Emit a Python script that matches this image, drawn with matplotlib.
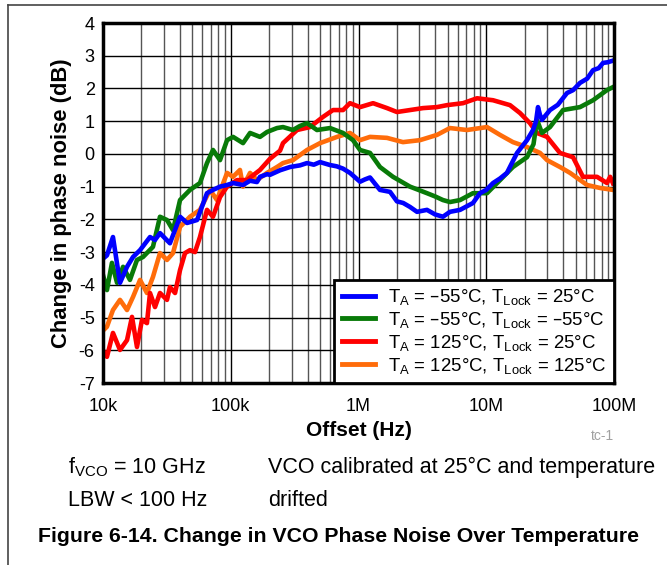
import numpy as np
import matplotlib
matplotlib.use("Agg")
import matplotlib.pyplot as plt
from matplotlib.ticker import LogLocator, NullFormatter
from matplotlib.lines import Line2D

plt.rcParams['font.family'] = ['Liberation Sans', 'DejaVu Sans']
plt.rcParams['mathtext.default'] = 'regular'

# log10(offset in Hz) and change in phase noise (dB)
blue_lx = [4.00, 4.031, 4.078, 4.133, 4.188, 4.235, 4.290, 4.368, 4.407, 4.446, 4.524, 4.603,
           4.658, 4.736, 4.814, 4.861, 4.916, 4.971, 5.018, 5.096, 5.151, 5.205, 5.229, 5.284,
           5.307, 5.386, 5.464, 5.542, 5.597, 5.650, 5.699, 5.777, 5.830, 5.879, 5.933, 6.012,
           6.050, 6.090, 6.168, 6.247, 6.301, 6.350, 6.403, 6.458, 6.536, 6.600, 6.661, 6.716,
           6.795, 6.896, 6.951, 7.000, 7.053, 7.108, 7.162, 7.241, 7.319, 7.366, 7.390, 7.405,
           7.420, 7.436, 7.499, 7.560, 7.632, 7.680, 7.734, 7.790, 7.836, 7.880, 7.914, 7.950,
           7.992]
blue_db = [-3.2, -3.1, -2.54, -3.94, -3.45, -3.15, -2.94, -2.54, -2.63, -2.42, -2.73, -1.92,
           -2.11, -2.02, -1.2, -1.1, -1.0, -0.95, -0.89, -0.95, -0.82, -0.86, -0.7, -0.62,
           -0.64, -0.5, -0.4, -0.35, -0.28, -0.33, -0.25, -0.34, -0.38, -0.45, -0.58, -0.85,
           -0.78, -0.72, -1.1, -1.16, -1.45, -1.5, -1.62, -1.77, -1.71, -1.85, -1.92, -1.77,
           -1.71, -1.5, -1.2, -1.1, -0.89, -0.75, -0.58, 0.03, 0.42, 0.73, 1.0, 1.43,
           1.2, 1.04, 1.34, 1.5, 1.86, 1.95, 2.17, 2.3, 2.56, 2.62, 2.78, 2.8,
           2.85]

green_lx = [4.00, 4.031, 4.070, 4.110, 4.157, 4.211, 4.266, 4.313, 4.391, 4.446, 4.501, 4.548,
            4.603, 4.681, 4.759, 4.814, 4.861, 4.916, 4.971, 5.018, 5.096, 5.151, 5.229, 5.284,
            5.362, 5.409, 5.487, 5.540, 5.597, 5.675, 5.777, 5.879, 5.957, 6.012, 6.090, 6.168,
            6.270, 6.403, 6.536, 6.600, 6.661, 6.716, 6.795, 6.896, 7.006, 7.108, 7.209, 7.319,
            7.370, 7.397, 7.436, 7.499, 7.601, 7.734, 7.836, 7.945, 7.992]
green_db = [-3.7, -4.16, -3.33, -3.94, -3.45, -3.85, -3.24, -3.15, -2.84, -1.92, -2.02, -2.33,
            -1.41, -1.1, -0.89, -0.28, 0.12, -0.19, 0.42, 0.52, 0.33, 0.64, 0.52, 0.67,
            0.79, 0.82, 0.73, 0.85, 0.94, 0.73, 0.79, 0.64, 0.42, 0.12, 0.03, -0.4,
            -0.7, -1.0, -1.2, -1.3, -1.41, -1.47, -1.41, -1.2, -1.2, -0.8, -0.4, -0.1,
            0.3, 1.04, 0.64, 0.82, 1.34, 1.43, 1.64, 1.95, 2.04]

red_lx = [4.00, 4.031, 4.078, 4.133, 4.188, 4.227, 4.266, 4.305, 4.344, 4.368, 4.407, 4.446,
          4.501, 4.524, 4.564, 4.603, 4.642, 4.681, 4.720, 4.759, 4.814, 4.861, 4.916, 4.971,
          5.049, 5.127, 5.229, 5.307, 5.386, 5.409, 5.519, 5.620, 5.722, 5.800, 5.879, 5.933,
          6.012, 6.114, 6.223, 6.301, 6.403, 6.505, 6.614, 6.693, 6.818, 6.928, 7.053, 7.186,
          7.264, 7.342, 7.397, 7.476, 7.577, 7.679, 7.757, 7.867, 7.945, 7.970, 7.992]
red_db = [-6.0, -6.2, -5.47, -5.99, -5.69, -4.98, -5.9, -5.07, -5.17, -4.25, -4.68, -4.25,
          -4.46, -4.07, -4.25, -3.55, -3.03, -2.94, -3.0, -2.54, -1.71, -1.92, -1.32, -1.0,
          -0.8, -0.8, -0.49, -0.15, 0.1, 0.33, 0.73, 0.82, 1.13, 1.34, 1.34, 1.55,
          1.43, 1.55, 1.4, 1.28, 1.34, 1.4, 1.43, 1.49, 1.55, 1.7, 1.64, 1.49,
          1.25, 0.94, 0.64, 0.52, 0.03, -0.1, -0.7, -0.7, -0.89, -0.7, -0.9]

orange_lx = [4.00, 4.031, 4.078, 4.133, 4.188, 4.235, 4.290, 4.344, 4.391, 4.446, 4.501, 4.548,
             4.603, 4.681, 4.759, 4.838, 4.892, 4.971, 5.018, 5.072, 5.096, 5.151, 5.205, 5.284,
             5.362, 5.409, 5.487, 5.597, 5.699, 5.832, 5.933, 6.012, 6.090, 6.223, 6.348, 6.481,
             6.614, 6.716, 6.849, 7.006, 7.108, 7.209, 7.319, 7.421, 7.476, 7.577, 7.656, 7.789,
             7.890, 7.992]
orange_db = [-5.4, -5.28, -4.77, -4.46, -4.77, -4.37, -3.85, -4.25, -3.76, -3.03, -3.24, -3.03,
             -2.23, -1.92, -1.71, -1.1, -1.41, -0.58, -0.7, -0.49, -1.0, -0.58, -0.8, -0.58,
             -0.4, -0.28, -0.19, 0.12, 0.33, 0.52, 0.64, 0.42, 0.52, 0.49, 0.36, 0.42,
             0.58, 0.79, 0.73, 0.82, 0.58, 0.36, 0.21, 0.03, -0.19, -0.4, -0.58, -0.95,
             -1.04, -1.1]

labels = [r'T$_{A}$ = –55°C, T$_{Lock}$ = 25°C',
          r'T$_{A}$ = –55°C, T$_{Lock}$ = –55°C',
          r'T$_{A}$ = 125°C, T$_{Lock}$ = 25°C',
          r'T$_{A}$ = 125°C, T$_{Lock}$ = 125°C']
colors = ['#0000ff', '#087a08', '#ff0000', '#ff6c0a']

fig = plt.figure(figsize=(6.67, 5.65), dpi=100)
ax = fig.add_axes([103/667, 1-383/565, 511/667, 360/565])

series = [(blue_lx, blue_db), (green_lx, green_db), (red_lx, red_db), (orange_lx, orange_db)]
# orange first so the others sit on top like the original
for i in [3, 2, 1, 0]:
    lx, db = series[i]
    ax.plot(10 ** np.array(lx), db, color=colors[i], lw=3.3, solid_joinstyle='round', zorder=3)

ax.set_xscale('log')
ax.set_xlim(1e4, 1e8)
ax.set_ylim(-7, 4)
ax.set_yticks(range(-7, 5))
ax.set_yticklabels([str(v) for v in range(-7, 5)])
ax.set_xticks([1e4, 1e5, 1e6, 1e7, 1e8])
ax.set_xticklabels(['10k', '100k', '1M', '10M', '100M'])
ax.xaxis.set_minor_locator(LogLocator(base=10, subs=np.arange(2, 10)))
ax.xaxis.set_minor_formatter(NullFormatter())
ax.tick_params(axis='both', which='both', length=0, labelsize=13)
ax.tick_params(axis='x', pad=11)
ax.tick_params(axis='y', pad=6)
ax.grid(True, which='major', color='black', lw=1.0, zorder=1)
ax.grid(True, which='minor', axis='x', color='#555555', lw=1.0, zorder=1)
for s in ax.spines.values():
    s.set_linewidth(2.5)
    s.set_zorder(5)

ax.set_xlabel('Offset (Hz)', fontsize=15, fontweight='bold', labelpad=4)
ax.set_ylabel('Change in phase noise (dB)', fontsize=15.8, fontweight='bold', labelpad=5)

handles = [Line2D([], [], color=c, lw=3.5) for c in colors]
leg = ax.legend(handles, labels, loc='lower right', borderaxespad=0, fontsize=13.4,
                fancybox=False, framealpha=1, edgecolor='black', handlelength=1.8,
                handletextpad=0.7, labelspacing=0.15, borderpad=0.4)
leg.get_frame().set_linewidth(2.0)
leg.set_zorder(6)

fig.text(614/667, 1-436/565, 'tc-1', fontsize=10, color='#a0a0a0', ha='right', va='center')
fig.text(68/667, 1-467/565, r'f$_{VCO}$ = 10 GHz', fontsize=15.5, va='center')
fig.text(268/667, 1-467/565, 'VCO calibrated at 25°C and temperature', fontsize=15.5, va='center')
fig.text(68/667, 1-500/565, 'LBW < 100 Hz', fontsize=15.5, va='center')
fig.text(268/667, 1-500/565, 'drifted', fontsize=15.5, va='center')
fig.text(339/667, 1-537/565, 'Figure 6-14. Change in VCO Phase Noise Over Temperature',
         fontsize=15.3, fontweight='bold', ha='center', va='center')

# thin page border (top and left)
fig.add_artist(Line2D([8/667, 1], [1-5/565, 1-5/565], color='#444444', lw=1.2))
fig.add_artist(Line2D([8/667, 8/667], [0, 1-5/565], color='#444444', lw=1.2))

fig.savefig('out.png', dpi=100)
